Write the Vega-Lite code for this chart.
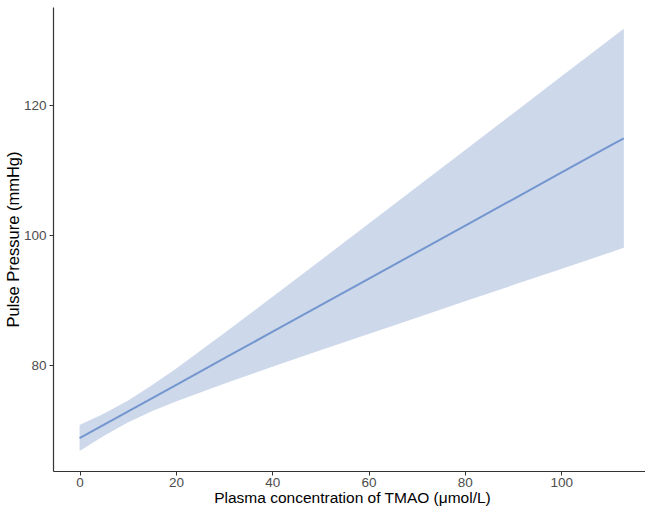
{
  "$schema": "https://vega.github.io/schema/vega-lite/v6.json",
  "autosize": {"type": "none"},
  "width": 592,
  "height": 464,
  "padding": {"left": 53, "top": 7, "right": 0, "bottom": 35},
  "background": "white",
  "config": {
    "view": {"stroke": null},
    "font": "Liberation Sans",
    "axis": {
      "grid": false,
      "domainColor": "#333333",
      "domainWidth": 1.2,
      "tickColor": "#333333",
      "tickSize": 4,
      "tickWidth": 1,
      "labelColor": "#4D4D4D",
      "labelFontSize": 13.5,
      "labelFont": "Liberation Sans",
      "titleFont": "Liberation Sans",
      "titleFontSize": 16,
      "titleFontWeight": "normal",
      "titleColor": "#000000"
    }
  },
  "data": {
    "values": [
      {"tmao": 0, "fit": 68.8, "lo": 66.8, "hi": 70.8},
      {"tmao": 5, "fit": 70.84, "lo": 69.13, "hi": 72.55},
      {"tmao": 10, "fit": 72.88, "lo": 71.21, "hi": 74.55},
      {"tmao": 15, "fit": 74.92, "lo": 72.93, "hi": 76.91},
      {"tmao": 20, "fit": 76.96, "lo": 74.44, "hi": 79.48},
      {"tmao": 30, "fit": 81.04, "lo": 77.16, "hi": 84.92},
      {"tmao": 40, "fit": 85.12, "lo": 79.75, "hi": 90.49},
      {"tmao": 50, "fit": 89.2, "lo": 82.3, "hi": 96.1},
      {"tmao": 60, "fit": 93.28, "lo": 84.81, "hi": 101.75},
      {"tmao": 70, "fit": 97.36, "lo": 87.32, "hi": 107.4},
      {"tmao": 80, "fit": 101.44, "lo": 89.82, "hi": 113.06},
      {"tmao": 90, "fit": 105.52, "lo": 92.32, "hi": 118.72},
      {"tmao": 100, "fit": 109.6, "lo": 94.81, "hi": 124.39},
      {"tmao": 110, "fit": 113.68, "lo": 97.3, "hi": 130.06},
      {"tmao": 113, "fit": 114.9, "lo": 98.05, "hi": 131.75}
    ]
  },
  "encoding": {
    "x": {
      "field": "tmao",
      "type": "quantitative",
      "scale": {"domain": [-5.52, 117.4], "nice": false, "zero": false},
      "axis": {
        "values": [0, 20, 40, 60, 80, 100],
        "title": "Plasma concentration of TMAO (μmol/L)",
        "titleFontSize": 15.5,
        "labelPadding": 0,
        "titlePadding": 2,
        "titleX": 299
      }
    }
  },
  "layer": [
    {
      "mark": {"type": "area", "color": "#CDD8EB", "opacity": 1},
      "encoding": {
        "y": {
          "field": "lo",
          "type": "quantitative",
          "scale": {"domain": [63.74, 135.08], "nice": false, "zero": false},
          "axis": {
            "values": [80, 100, 120],
            "title": "Pulse Pressure (mmHg)",
            "titleFontSize": 16.5,
            "labelPadding": 3,
            "titlePadding": 2
          }
        },
        "y2": {"field": "hi"}
      }
    },
    {
      "mark": {"type": "line", "color": "#7496CE", "strokeWidth": 2},
      "encoding": {
        "y": {"field": "fit", "type": "quantitative"}
      }
    }
  ]
}
